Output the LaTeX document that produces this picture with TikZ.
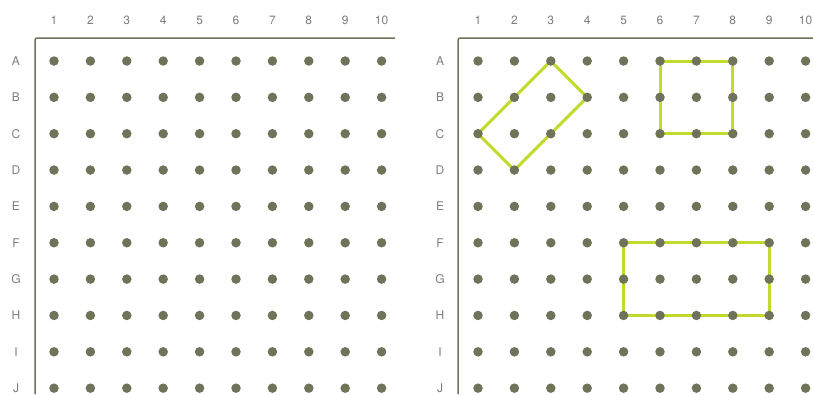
\documentclass[tikz,border=0pt]{standalone}
\usepackage{fontspec}
\setmainfont{TeX Gyre Heros}
\usetikzlibrary{backgrounds}
\definecolor{pegc}{HTML}{6F735A}
\definecolor{bandc}{HTML}{C3D92B}
\definecolor{lblc}{HTML}{7E7E7E}
\tikzset{
  peg/.style={circle,fill=pegc,inner sep=0pt,minimum size=9.5pt},
  lbl/.style={font=\fontsize{12}{14}\selectfont,text=lblc},
  axis/.style={line width=1.5pt,draw=pegc,rounded corners=2pt},
  band/.style={line width=3pt,draw=bandc,line join=round,line cap=round}
}

\begin{document}
\begin{tikzpicture}[x=1pt,y=-1pt]
\useasboundingbox (0,0) rectangle (813,394);
% two boards: board name / first column x / row label x
\foreach \b/\ox/\lx in {L/54/16,R/478/440}{
  \foreach \c in {1,...,10}
    \node[lbl] (\b top\c) at ({\ox+(\c-1)*36.4},20) {\c};
  \foreach \r [count=\i] in {A,...,J}{
    \node[lbl] (\b side\r) at (\lx,{61+(\i-1)*36.35}) {\r};
    \foreach \c in {1,...,10}
      \node[peg] (\b\r\c) at ({\ox+(\c-1)*36.4},{61+(\i-1)*36.35}) {};
  }
}
% frame of each board
\draw[axis] (35,394) -- (35,38) -- (395,38);
\draw[axis] (458,394) -- (458,38) -- (813,38);
% rubber bands, under the pegs
\begin{scope}[on background layer]
\draw[band] (RC1.center) -- (RA3.center) -- (RB4.center) -- (RD2.center) -- cycle;
\draw[band] (RA6.center) -- (RA8.center) -- (RC8.center) -- (RC6.center) -- cycle;
\draw[band] (RF5.center) -- (RF9.center) -- (RH9.center) -- (RH5.center) -- cycle;
\end{scope}
\end{tikzpicture}
\end{document}
